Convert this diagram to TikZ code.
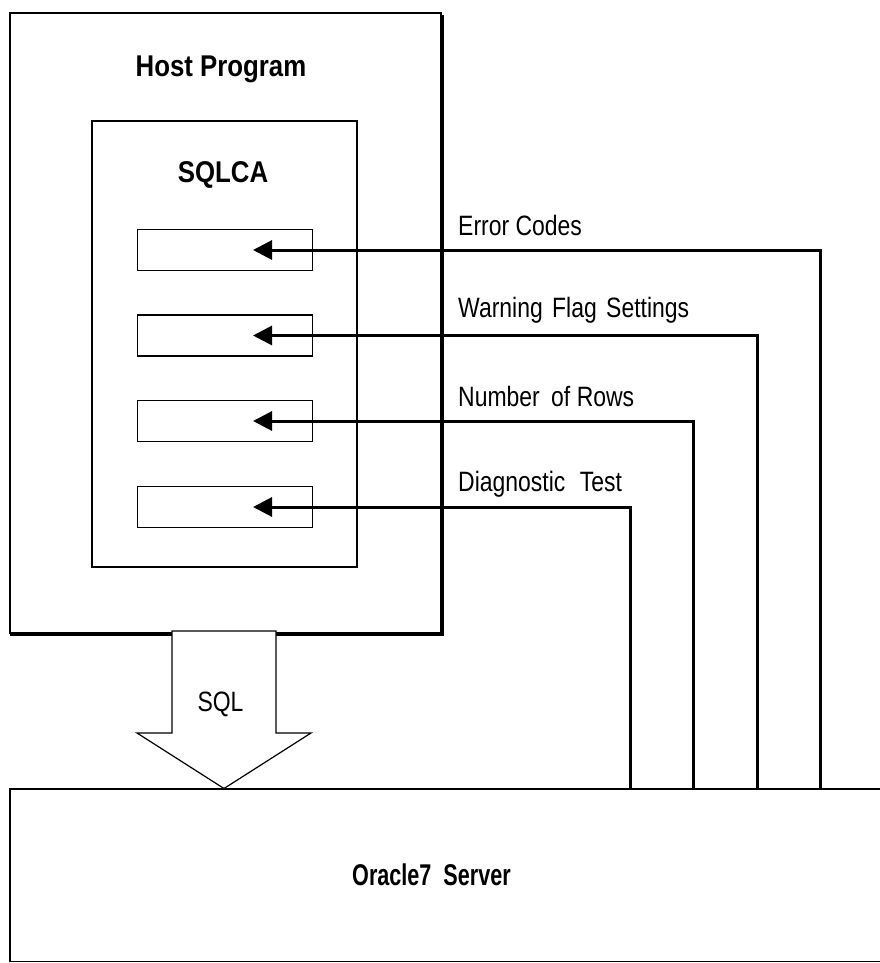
\documentclass[tikz,border=0pt]{standalone}
\usepackage{fontspec}
\newfontfamily\lblfont{Liberation Sans}[FakeStretch=0.82]
\newfontfamily\ttlfont{Liberation Sans}[FakeStretch=0.86]
\newfontfamily\srvfont{Liberation Sans}[FakeStretch=0.72]
\usetikzlibrary{arrows.meta}
\tikzset{
  box/.style={draw, line width=1.5pt, inner sep=0pt},
  field/.style={box, minimum width=175pt, minimum height=41pt},
  title/.style={inner sep=0pt, anchor=base, font=\ttlfont\bfseries\fontsize{30}{32}\selectfont},
  lbl/.style={inner sep=0pt, anchor=base west, font=\lblfont\fontsize{28}{30}\selectfont},
  conn/.style={line width=3pt, -{Triangle[length=19pt,width=19pt]}},
}
\begin{document}
\begin{tikzpicture}[x=1pt,y=-1pt]
\useasboundingbox[fill=white] (0,0) rectangle (880,963);
% host program
\node[box, minimum width=431pt, minimum height=620pt] (host) at (225.5,323) {};
\draw[line width=4pt] ([yshift=-3pt]host.north east) -- (host.south east) -- ([xshift=1pt]host.south west);
\node[title] (hosttxt) at (221,77) {Host Program};
% SQLCA
\node[box, minimum width=265pt, minimum height=446pt] (sqlca) at (224.5,344) {};
\node[title] (sqlcatxt) at (223,182) {SQLCA};
% fields
\node[field] (f1) at (225,250) {};
\node[field] (f2) at (225,335.5) {};
\node[field] (f3) at (225,421) {};
\node[field] (f4) at (225,507) {};
% server
\node[inner sep=0pt, minimum width=870pt, minimum height=172.5pt] (server) at (445,875.25) {};
\draw[line width=1.5pt] (server.north east) -- (server.north west) -- (server.south west) -- (server.south east);
\node[title, anchor=base west, font=\srvfont\bfseries\fontsize{30}{32}\selectfont] (servertxt) at (352,885) {Oracle7\ \ Server};
% SQL arrow
\draw[line width=1.2pt, fill=white] (172,631) -- (172,733) -- (137,733) -- (224,788.5) -- (311,733) -- (276,733) -- (276,631) -- cycle;
\node[lbl, anchor=base] (sqltxt) at (220.5,711) {SQL};
% connectors
\coordinate (t1) at ([xshift=28pt]f1.center);
\coordinate (t2) at ([xshift=28pt]f2.center);
\coordinate (t3) at ([xshift=28pt]f3.center);
\coordinate (t4) at ([xshift=28pt]f4.center);
\draw[conn] (server.north west -| 820,0) |- (t1);
\draw[conn] (server.north west -| 757,0) |- (t2);
\draw[conn] (server.north west -| 693,0) |- (t3);
\draw[conn] (server.north west -| 630,0) |- (t4);
% labels
\node[lbl] (l1) at (458,235) {Error Codes};
\node[lbl] (l2) at (458,317) {Warning\hspace{3pt} Flag\hspace{3pt} Settings};
\node[lbl] (l3) at (458,406) {Number\hspace{5pt} of Rows};
\node[lbl] (l4) at (458,491) {Diagnostic\hspace{8pt} Test};
\end{tikzpicture}
\end{document}
